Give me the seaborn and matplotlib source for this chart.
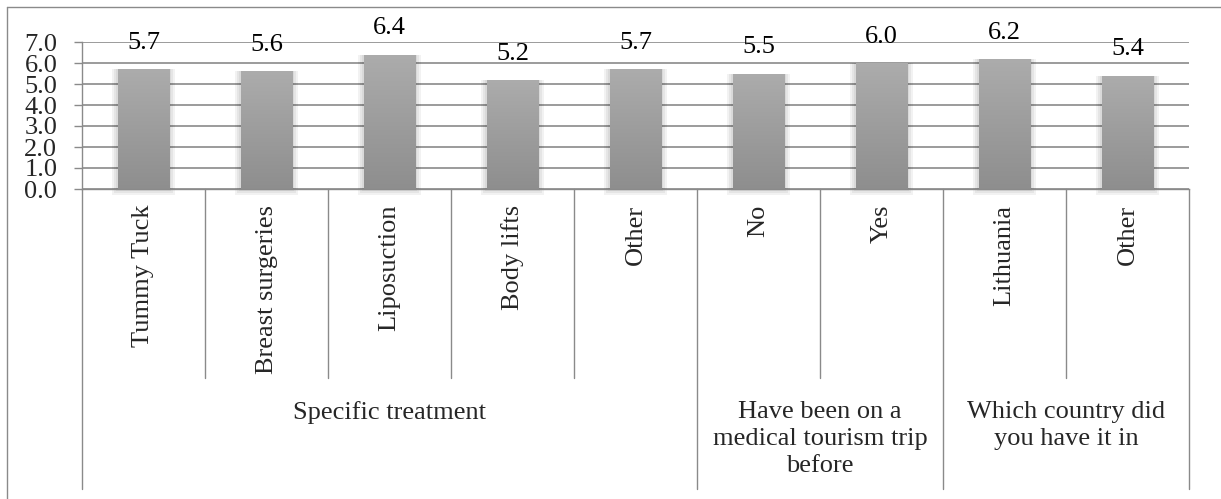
import numpy as np
import pandas as pd
import matplotlib.pyplot as plt
import seaborn as sns
from matplotlib.lines import Line2D
from matplotlib.patches import Rectangle
from matplotlib.colors import LinearSegmentedColormap

# data
labels = ["Tummy Tuck", "Breast surgeries", "Liposuction", "Body lifts", "Other",
          "No", "Yes", "Lithuania", "Other"]
scores = [5.7, 5.6, 6.4, 5.2, 5.7, 5.5, 6.0, 6.2, 5.4]
groups = ["Specific treatment",
          "Have been on a\nmedical tourism trip\nbefore",
          "Which country did\nyou have it in"]
group_sizes = [5, 2, 2]
y_ticks = [0, 1, 2, 3, 4, 5, 6, 7]

df = pd.DataFrame({"pos": range(len(labels)), "score": scores})

sns.set_theme(style="white")
plt.rcParams["font.family"] = ["Liberation Serif", "DejaVu Serif"]
grey = "#8a8a8a"
fs = 19

W, H = 1221, 499
fig = plt.figure(figsize=(W / 100, H / 100), dpi=100)
fig.patch.set_facecolor("white")

# plot area in pixels: left 82, right 1189, top (7.0) 42, bottom (0.0) 189
ax = fig.add_axes([82 / W, 1 - 189 / H, (1189 - 82) / W, (189 - 42) / H])
ax_h = 189 - 42

sns.barplot(data=df, x="pos", y="score", color="#9c9c9c", width=0.415,
            errorbar=None, ax=ax, zorder=2)

ax.set_xlim(-0.5, len(labels) - 0.5)
ax.set_ylim(0, 7)

# gradient fill + soft shadow on each bar
grad = np.linspace(0, 1, 256).reshape(-1, 1)
cmap = LinearSegmentedColormap.from_list("bar", ["#8e8e8e", "#acacac"])
for p in list(ax.patches):
    x0, w, h = p.get_x(), p.get_width(), p.get_height()
    for n in (2, 4, 6):
        dx, dy = n / 123, n / 21
        ax.add_patch(Rectangle((x0 - dx, -dy), w + 2 * dx, h + dy, color="black",
                               alpha=0.05, lw=0, zorder=1.5, clip_on=False))
    im = ax.imshow(grad, extent=[x0, x0 + w, 0, h], origin="lower", cmap=cmap,
                   aspect="auto", zorder=2.1)
    im.set_clip_path(p)
    p.set_facecolor("none")
    p.set_edgecolor("none")
    ax.annotate(f"{h:.1f}", (x0 + w / 2, h), xytext=(0, 14.5),
                textcoords="offset points", ha="center", va="baseline",
                fontsize=fs, color="black")

ax.set_xlim(-0.5, len(labels) - 0.5)
ax.set_ylim(0, 7)

# grid and axes
ax.set_yticks(y_ticks, [f"{v:.1f}" for v in y_ticks])
ax.yaxis.grid(True, color=grey, lw=1.2)
ax.set_axisbelow(True)
for s in ["top", "right"]:
    ax.spines[s].set_visible(False)
for s in ["left", "bottom"]:
    ax.spines[s].set_color(grey)
    ax.spines[s].set_linewidth(1.0)
ax.tick_params(axis="y", length=5.8, width=1.0, color=grey, pad=12, labelsize=fs,
               left=True)
ax.set_xticks(range(len(labels)), labels, rotation=90)
ax.tick_params(axis="x", length=0, pad=11.5, labelsize=fs)
ax.set_xlabel("")
ax.set_ylabel("")

# multi-level category axis dividers and group labels
tr = ax.get_xaxis_transform()
short_y = -(378 - 189) / ax_h
long_y = -(489 - 189) / ax_h
bounds = np.cumsum([0] + group_sizes) - 0.5
for i in range(len(labels) + 1):
    xb = i - 0.5
    yb = long_y if xb in bounds else short_y
    ax.add_line(Line2D([xb, xb], [0, yb], transform=tr, color=grey, lw=1.0,
                       clip_on=False))

for g, a, b in zip(groups, bounds[:-1], bounds[1:]):
    ax.text((a + b) / 2, -(401 - 189) / ax_h, g, transform=tr, ha="center",
            va="top", fontsize=fs, multialignment="center", linespacing=1.3)

# chart area frame (cut by image edge on right and bottom)
fy = 1 - 7 / H
fx = 7 / W
fig.add_artist(Line2D([fx, fx], [0, fy], color=grey, lw=1.0))
fig.add_artist(Line2D([fx, 1], [fy, fy], color=grey, lw=1.0))

fig.savefig("out.png", dpi=100)
